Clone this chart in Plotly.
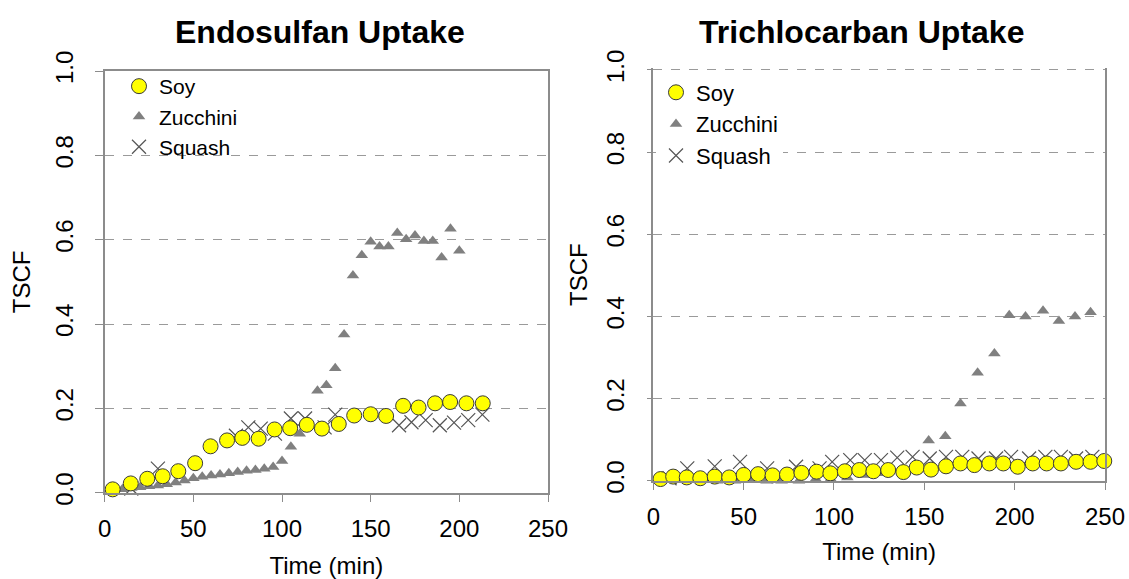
import plotly.graph_objects as go

# ---------------- data: Endosulfan (left) ----------------
endo_soy_t = [4.5, 14.7, 24, 32.7, 41.5, 51, 59.7, 69, 77.6, 86.8, 95.8, 104.6,
              114, 122.5, 132, 140.7, 150, 158.7, 168.3, 177, 186.3, 194.8, 204, 213.2]
endo_soy = [0.008, 0.022, 0.033, 0.039, 0.051, 0.070, 0.110, 0.124, 0.130, 0.128, 0.150, 0.153,
            0.161, 0.152, 0.163, 0.183, 0.186, 0.182, 0.206, 0.202, 0.212, 0.215, 0.212, 0.212]

endo_zuc_t = [5, 10, 15, 20, 25, 30, 35, 40, 45, 50, 55, 60, 65, 70, 75, 80, 85, 90, 95, 100,
              105, 110, 115, 120, 125, 130, 135, 140, 145, 150, 155, 160, 165, 170, 175, 180,
              185, 190, 195, 200]
endo_zuc = [0.004, 0.008, 0.011, 0.013, 0.015, 0.017, 0.020, 0.024, 0.029, 0.034, 0.038, 0.041,
            0.043, 0.046, 0.049, 0.052, 0.054, 0.057, 0.061, 0.075, 0.109, 0.140, 0.158, 0.242,
            0.255, 0.295, 0.375, 0.515, 0.563, 0.595, 0.584, 0.584, 0.616, 0.601, 0.610, 0.597,
            0.597, 0.558, 0.626, 0.574]

endo_sq_t = [15, 30, 74, 81, 88, 96, 105, 113, 124, 130, 166, 173, 181, 189, 197, 205, 213]
endo_sq = [0.010, 0.057, 0.135, 0.155, 0.152, 0.140, 0.176, 0.176, 0.155, 0.185,
           0.160, 0.167, 0.172, 0.160, 0.166, 0.172, 0.185]

# ---------------- data: Trichlocarban (right) ----------------
tcc_soy_t = [4, 11, 18.5, 26, 34, 42, 50, 58, 66, 74, 82, 90.4, 98, 106, 114, 121.8, 130, 138.4,
             145.8, 153.7, 162, 170, 177.7, 186, 193.7, 201.7, 210, 217.7, 225.6, 234, 242, 249.6]
tcc_soy = [0.004, 0.010, 0.008, 0.006, 0.010, 0.008, 0.014, 0.016, 0.013, 0.015, 0.019, 0.022,
           0.018, 0.023, 0.026, 0.023, 0.026, 0.021, 0.032, 0.027, 0.035, 0.042, 0.038, 0.042,
           0.042, 0.034, 0.042, 0.042, 0.042, 0.046, 0.046, 0.048]

tcc_zuc_t = [9, 25.8, 35.4, 45.2, 53.5, 62.7, 71, 80.6, 89.9, 98.2, 107.4, 116.6, 125.1,
             152.4, 161.6, 170, 179.5, 188.8, 197, 206, 215.7, 224.5, 233.4, 242]
tcc_zuc = [0.004, 0.002, 0.0, 0.0, 0.001, 0.0, 0.0, 0.0, 0.004, 0.004, 0.008, 0.014, 0.018,
           0.098, 0.108, 0.188, 0.263, 0.310, 0.403, 0.400, 0.414, 0.389, 0.400, 0.410]

tcc_sq_t = [9, 18.8, 34, 48, 63, 79, 92, 99, 109, 117, 126, 135, 143.5, 153, 162, 171, 180,
            189.7, 198, 208, 217, 225.6, 234, 243]
tcc_sq = [0.006, 0.030, 0.035, 0.046, 0.030, 0.034, 0.030, 0.046, 0.050, 0.050, 0.050, 0.056,
          0.058, 0.054, 0.058, 0.058, 0.054, 0.054, 0.058, 0.054, 0.058, 0.058, 0.054, 0.058]

x_ticks = [0, 50, 100, 150, 200, 250]
y_ticks = [0.0, 0.2, 0.4, 0.6, 0.8, 1.0]
series_names = ["Soy", "Zucchini", "Squash"]
titles = ["Endosulfan Uptake", "Trichlocarban Uptake"]

FONT = "Arial, Liberation Sans, sans-serif"
W, H = 1129, 579

soy_marker = dict(symbol="circle", size=15, color="#ffff00", line=dict(color="#3a3a3a", width=1))
zuc_marker = dict(symbol="triangle-up", size=11, color="#808080", line=dict(width=0))
sq_marker = dict(symbol="x-thin", size=14, color="#555555", line=dict(color="#555555", width=1.2))

fig = go.Figure()
panels = [
    ("x", "y", "legend", endo_soy_t, endo_soy, endo_zuc_t, endo_zuc, endo_sq_t, endo_sq),
    ("x2", "y2", "legend2", tcc_soy_t, tcc_soy, tcc_zuc_t, tcc_zuc, tcc_sq_t, tcc_sq),
]
for xa, ya, lg, st, sv, zt, zv, qt, qv in panels:
    fig.add_trace(go.Scatter(x=qt, y=qv, mode="markers", name=series_names[2], marker=sq_marker,
                             xaxis=xa, yaxis=ya, legend=lg, cliponaxis=False, legendrank=3))
    fig.add_trace(go.Scatter(x=zt, y=zv, mode="markers", name=series_names[1], marker=zuc_marker,
                             xaxis=xa, yaxis=ya, legend=lg, cliponaxis=False, legendrank=2))
    fig.add_trace(go.Scatter(x=st, y=sv, mode="markers", name=series_names[0], marker=soy_marker,
                             xaxis=xa, yaxis=ya, legend=lg, cliponaxis=False, legendrank=1))

axis_line = "#8c8c8c"
grid_col = "#9a9a9a"
tickfont = dict(family=FONT, size=24, color="#000000")
titlefont = dict(family=FONT, size=24, color="#000000")

def xaxis(domain, anchor, mirror, standoff):
    return dict(domain=domain, anchor=anchor, range=[0, 250], tickvals=x_ticks,
                ticktext=[str(v) for v in x_ticks], ticks="outside", ticklen=8,
                tickcolor=axis_line, tickwidth=1.2, showline=True, linecolor=axis_line,
                linewidth=1.5, mirror=mirror, showgrid=False, zeroline=False, automargin=False,
                ticklabelstandoff=6, tickfont=tickfont,
                title=dict(text="Time (min)", font=titlefont, standoff=standoff))

def yaxis(domain, anchor, ticklen, top, labelstandoff, standoff):
    return dict(domain=domain, anchor=anchor, range=[0, top], tickvals=y_ticks,
                ticktext=["%.1f" % v for v in y_ticks], tickangle=-90, ticks="outside",
                ticklen=ticklen, tickcolor=axis_line, tickwidth=1.2, showline=True,
                linecolor=axis_line, linewidth=1.5, mirror=True, showgrid=True,
                gridcolor=grid_col, griddash="dash", gridwidth=1, zeroline=False,
                automargin=False, ticklabelstandoff=labelstandoff, tickfont=tickfont,
                title=dict(text="TSCF", font=titlefont, standoff=standoff))

# right panel: range slightly above 1.0 so the dashed 1.0 grid line shows as the top edge
r_top = 1.004
r_y0, r_y1 = 480.7, 70.0
r_px_top = r_y0 - (r_y0 - r_y1) * r_top

fig.update_layout(
    template="none",
    width=W, height=H, autosize=False,
    margin=dict(l=0, r=0, t=0, b=0, autoexpand=False),
    paper_bgcolor="white", plot_bgcolor="white",
    font=dict(family=FONT, color="#000000"),
    xaxis=xaxis([104.7 / W, 548 / W], "y", True, 17),
    yaxis=yaxis([1 - 492.7 / H, 1 - 71 / H], "x", 8, 1.0, 12, 14),
    xaxis2=xaxis([653.3 / W, 1105 / W], "y2", False, 14),
    yaxis2=yaxis([1 - r_y0 / H, 1 - r_px_top / H], "x2", 5, r_top, 13, 8),
    showlegend=True,
    legend=dict(x=119 / W, y=1 - 66 / H, xanchor="left", yanchor="top",
                bgcolor="rgba(255,255,255,0)", font=dict(family=FONT, size=21, color="#000"),
                traceorder="normal", itemwidth=30, tracegroupgap=0, borderwidth=0),
    legend2=dict(x=656 / W, y=1 - 71.5 / H, xanchor="left", yanchor="top",
                 bgcolor="white", font=dict(family=FONT, size=22, color="#000"),
                 traceorder="normal", itemwidth=30, tracegroupgap=0, borderwidth=0),
    annotations=[
        dict(text="<b>%s</b>" % titles[0], x=320 / W, y=1 - 32 / H, xref="paper", yref="paper",
             xanchor="center", yanchor="middle", showarrow=False,
             font=dict(family=FONT, size=32, color="#000")),
        dict(text="<b>%s</b>" % titles[1], x=861 / W, y=1 - 32 / H, xref="paper", yref="paper",
             xanchor="center", yanchor="middle", showarrow=False,
             font=dict(family=FONT, size=32, color="#000")),
    ],
)

fig.write_html("out.html")
